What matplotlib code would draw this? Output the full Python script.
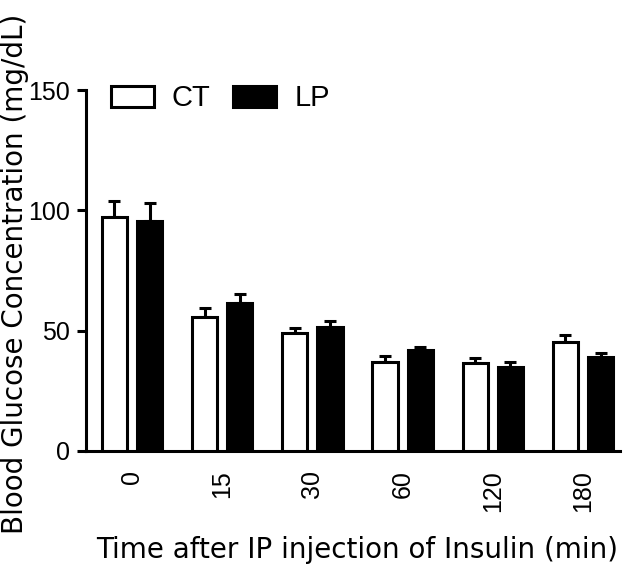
import numpy as np
import matplotlib.pyplot as plt
from matplotlib.patches import Patch

# Blood glucose after IP insulin injection
times = ['0', '15', '30', '60', '120', '180']
ct = [97.3, 55.8, 49.2, 37.1, 36.4, 45.4]
ct_err = [6.6, 3.7, 2.0, 2.4, 2.1, 2.8]
lp = [95.7, 61.4, 51.6, 42.0, 35.0, 38.9]
lp_err = [7.2, 3.7, 2.4, 1.3, 2.1, 1.7]

plt.rcParams['font.family'] = ['Liberation Sans', 'DejaVu Sans']

fig = plt.figure(figsize=(6.3, 5.67), dpi=100)
ax = fig.add_axes([0.1365, 0.2046, 0.984 - 0.1365, 0.841 - 0.2046])

x = np.arange(len(times))
w = 0.28
off = 0.195
lw = 2.2

zeros = [0] * len(times)
ax.bar(x - off, ct, w, color='white', edgecolor='black', linewidth=lw, zorder=3)
ax.bar(x + off, lp, w, color='black', edgecolor='black', linewidth=lw, zorder=3)
ax.errorbar(x - off, ct, yerr=[zeros, ct_err], fmt='none', ecolor='black',
            elinewidth=lw, capsize=4, capthick=lw, zorder=2)
ax.errorbar(x + off, lp, yerr=[zeros, lp_err], fmt='none', ecolor='black',
            elinewidth=lw, capsize=4, capthick=lw, zorder=2)

ax.set_xlim(-0.51, 5.41)
ax.set_ylim(0, 150)
ax.set_yticks([0, 50, 100, 150])
ax.set_xticks(x)
ax.set_xticklabels(times, rotation=90)
ax.tick_params(axis='x', length=0, pad=14, labelsize=18)
ax.tick_params(axis='y', length=6.5, width=lw, pad=5, labelsize=18)

for s in ['top', 'right']:
    ax.spines[s].set_visible(False)
for s in ['left', 'bottom']:
    ax.spines[s].set_linewidth(lw)
ax.spines['left'].set_bounds(0, 150)

# axis titles (wide lettering in the original, DejaVu is the closest)
fig.text(357 / 630, 1 - 558 / 567, 'Time after IP injection of Insulin (min)',
         ha='center', va='baseline', fontsize=20, family='DejaVu Sans')
fig.text(1 / 630, 1 - 274 / 567, 'Blood Glucose Concentration (mg/dL)',
         rotation=90, ha='left', va='center', fontsize=20, family='DejaVu Sans')

handles = [Patch(facecolor='white', edgecolor='black', linewidth=lw, label='CT'),
           Patch(facecolor='black', edgecolor='black', linewidth=lw, label='LP')]
fig.legend(handles=handles, loc='center left', bbox_to_anchor=(111 / 630, 1 - 98.5 / 567),
           ncol=2, frameon=False, fontsize=21, handlelength=1.47, handleheight=0.72,
           handletextpad=0.62, columnspacing=0.78, borderaxespad=0, borderpad=0)

fig.savefig('out.png', dpi=100)
